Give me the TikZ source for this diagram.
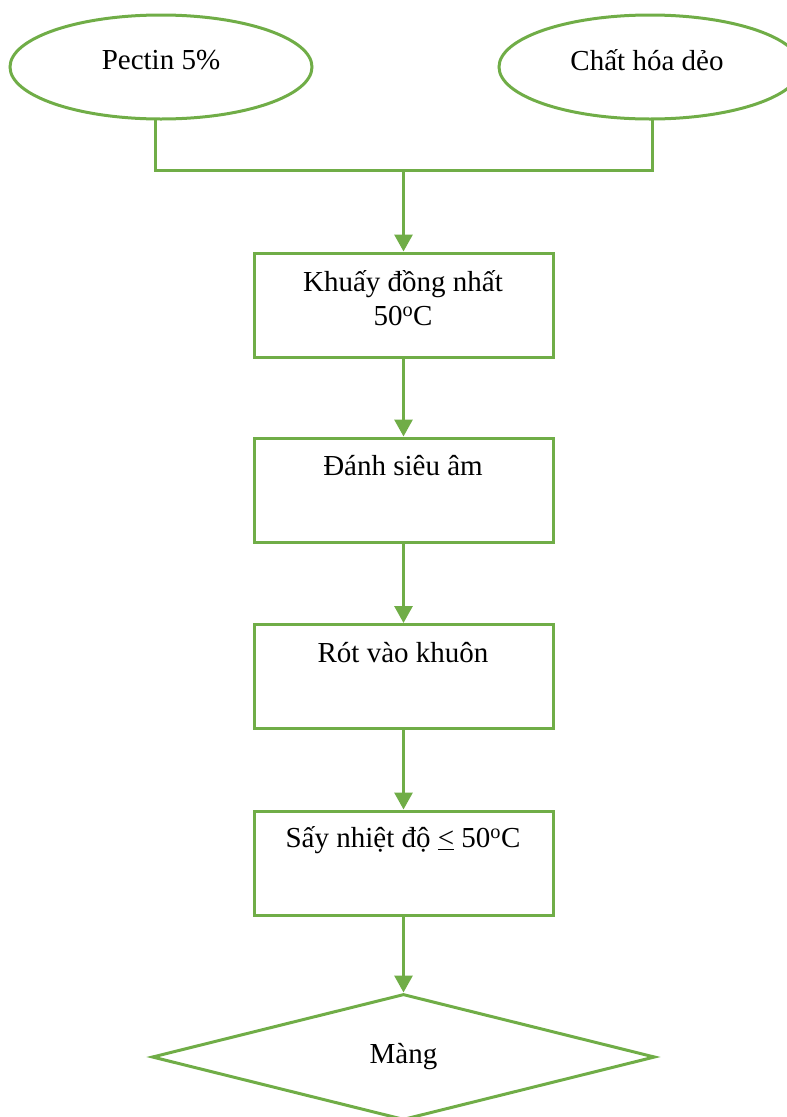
\documentclass[tikz,border=0pt]{standalone}
\usepackage{fontspec}
\setmainfont{Liberation Serif}
\usetikzlibrary{shapes.geometric,arrows.meta}
\definecolor{grn}{HTML}{70AD47}
\tikzset{
  ln/.style={draw=grn,line width=3pt},
  arr/.style={ln,-{Triangle[length=17pt,width=18pt]}},
  ell/.style={ln,ellipse,minimum width=302pt,minimum height=104pt,inner sep=0pt},
  box/.style={ln,rectangle,minimum width=299pt,minimum height=104pt,inner sep=0pt},
  txt/.style={font=\fontsize{29pt}{34pt}\selectfont,align=center,inner sep=0pt,text=black},
  dia/.style={ln,diamond,minimum width=503pt,minimum height=126pt,inner sep=0pt,aspect=4}
}
\begin{document}
\begin{tikzpicture}[x=1pt,y=-1pt]
\useasboundingbox (0,0) rectangle (787,1117);
\node[ell] (e1) at (161,67) {};
\node[txt] (t1) at (161,60) {Pectin 5\%};
\node[ell] (e2) at (650,67) {};
\node[txt] (t2) at (647,60) {Chất hóa dẻo};
\coordinate (j) at (403.5,170);
\coordinate (a1) at (155,119);
\coordinate (a2) at (652,119);
\node[box] (b1) at (403.5,305) {};
\node[txt] (tb1) at (403,298) {Khuấy đồng nhất\\50\textsuperscript{o}C};
\node[box] (b2) at (403.5,490) {};
\node[txt] (tb2) at (403,466) {Đánh siêu âm};
\node[box] (b3) at (403.5,676.5) {};
\node[txt] (tb3) at (403,653) {Rót vào khuôn};
\node[box] (b4) at (403.5,863) {};
\node[txt] (tb4) at (403,840) {Sấy nhiệt độ \underline{<} 50\textsuperscript{o}C};
\node[dia] (d) at (403.5,1057) {};
\node[txt] (td) at (403.5,1057) {Màng};
\draw[ln] (a1) |- (j) -| (a2);
\draw[arr] (j) -- (b1.north);
\draw[arr] (b1.south) -- (b2.north);
\draw[arr] (b2.south) -- (b3.north);
\draw[arr] (b3.south) -- (b4.north);
\draw[arr] (b4.south) -- (d.north);
\end{tikzpicture}
\end{document}
